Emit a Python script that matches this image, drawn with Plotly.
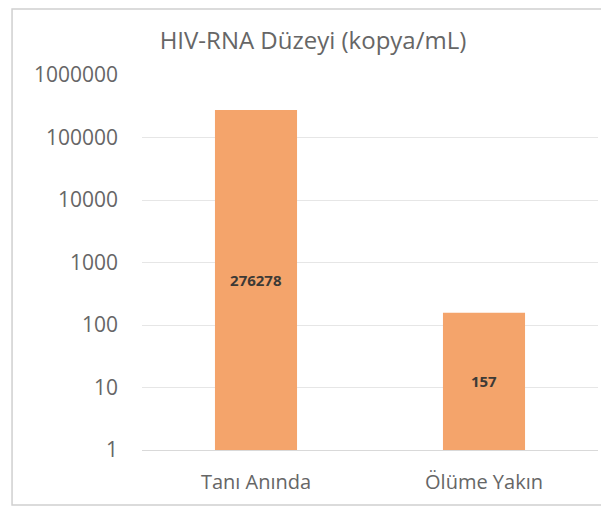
import plotly.graph_objects as go

categories = ["Tanı Anında", "Ölüme Yakın"]
values = [276278, 157]
tick_vals = [1, 10, 100, 1000, 10000, 100000, 1000000]
tick_text = ["1", "10", "100", "1000", "10000", "100000", "1000000"]

fig = go.Figure(go.Bar(
    x=categories,
    y=values,
    width=0.36,
    marker=dict(color="#F4A46B", line=dict(width=0)),
    text=[str(v) for v in values],
    textposition="inside",
    insidetextanchor="middle",
    textfont=dict(family="Open Sans", size=15, color="#3d3a36", weight="bold"),
    textangle=0,
))

# page body has an 8px margin, so the figure is sized to fit the window
fig.update_layout(
    width=601, height=503,
    margin=dict(l=134, r=11, t=67, b=61),
    paper_bgcolor="white",
    plot_bgcolor="white",
    showlegend=False,
    title=dict(text="HIV-RNA Düzeyi (kopya/mL)", x=0.5075, xanchor="center",
               y=0.936, yanchor="middle",
               font=dict(family="Open Sans", size=24, color="#666666")),
    font=dict(family="Open Sans", color="#666666"),
    shapes=[dict(type="rect", xref="paper", yref="paper",
                 x0=-0.285, x1=1.0154, y0=-0.1467, y1=1.176,
                 line=dict(color="#d0d0d0", width=1.5))],
)
fig.update_yaxes(type="log", range=[0, 6], tickvals=tick_vals, ticktext=tick_text,
                 showgrid=True, gridcolor="#e6e6e6", gridwidth=1,
                 zeroline=False, showline=False, ticklabelstandoff=23,
                 tickfont=dict(size=21, color="#666666"))
fig.update_xaxes(showline=True, linecolor="#d9d9d9", linewidth=1,
                 ticklabelstandoff=14,
                 tickfont=dict(size=20, color="#666666"))

fig.write_html("out.html")
